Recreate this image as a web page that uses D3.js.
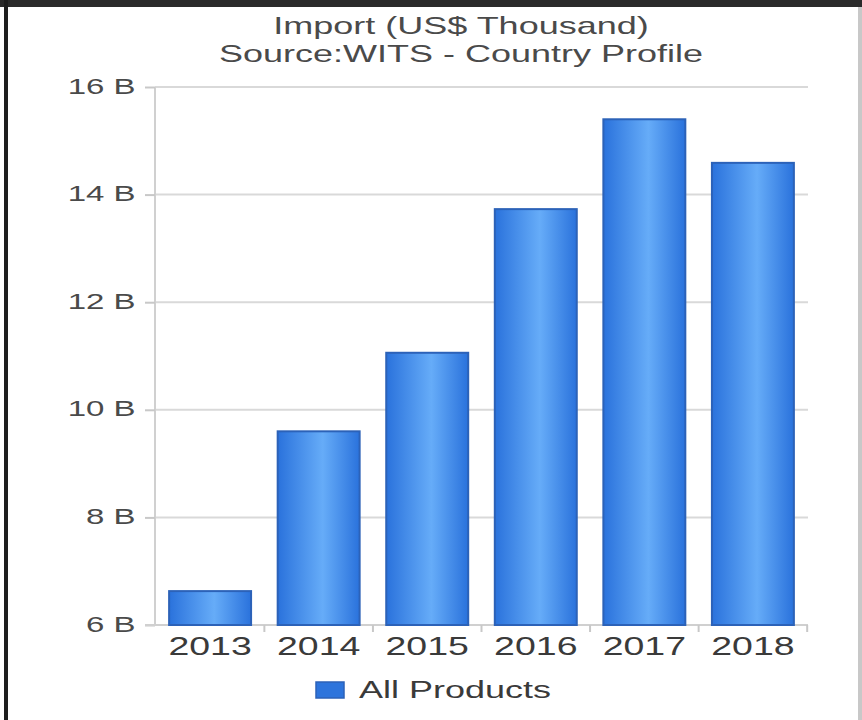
<!DOCTYPE html>
<html>
<head>
<meta charset="utf-8">
<script src="https://cdn.jsdelivr.net/npm/d3@7"></script>
<style>
  body { margin: 0; background: #fff; }
  svg { display: block; font-family: "Liberation Sans", Arial, sans-serif; }
</style>
</head>
<body>
<svg id="chart" width="862" height="720"></svg>
<script>
// data (values in billions)
const years = ["2013", "2014", "2015", "2016", "2017", "2018"];
const imports = [6.63, 9.6, 11.06, 13.73, 15.4, 14.59];
const yTicks = [6, 8, 10, 12, 14, 16];
const seriesName = "All Products";

const svg = d3.select("#chart");
const stretch = 1.5; // the original picture is wide-stretched, text too

// frame round the picture
svg.append("rect").attr("x", 0).attr("y", 0).attr("width", 862).attr("height", 720).attr("fill", "#fff");
svg.append("rect").attr("x", 0).attr("y", 0).attr("width", 862).attr("height", 7).attr("fill", "#2a2a2a");
svg.append("rect").attr("x", 4).attr("y", 0).attr("width", 4).attr("height", 720).attr("fill", "#1e1e1e");
svg.append("rect").attr("x", 858).attr("y", 7).attr("width", 4).attr("height", 713).attr("fill", "#c8c8c8");

const plotLeft = 155, plotRight = 808, plotTop = 87, plotBottom = 625;

const x = d3.scaleBand().domain(years).range([plotLeft, plotRight]).paddingInner(0.245).paddingOuter(0.13);
const y = d3.scaleLinear().domain([6, 16]).range([plotBottom, plotTop]);

// gradient for the bars
const defs = svg.append("defs");
const grad = defs.append("linearGradient").attr("id", "barGrad").attr("x1", "0").attr("x2", "1").attr("y1", "0").attr("y2", "0");
grad.append("stop").attr("offset", "0%").attr("stop-color", "#2a72dc");
grad.append("stop").attr("offset", "55%").attr("stop-color", "#66acf8");
grad.append("stop").attr("offset", "100%").attr("stop-color", "#2a72dc");

// titles
[["Import (US$ Thousand)", 34], ["Source:WITS - Country Profile", 62]].forEach(([t, ty]) => {
  svg.append("text")
    .attr("transform", `translate(461,${ty}) scale(${stretch},1)`)
    .attr("text-anchor", "middle")
    .style("font-size", "24px").attr("fill", "#4a4a4a").text(t);
});

// grid lines
svg.append("g").selectAll("line").data(yTicks.filter(d => d !== 6)).join("line")
  .attr("x1", plotLeft).attr("x2", plotRight)
  .attr("y1", d => y(d)).attr("y2", d => y(d))
  .attr("stroke", "#d9d9d9").attr("stroke-width", 2);

// y axis
const yAxis = svg.append("g").attr("transform", `translate(${plotLeft},0)`)
  .call(d3.axisLeft(y).tickValues(yTicks).tickSize(10).tickPadding(8).tickFormat(d => d + " B"));
yAxis.select(".domain").attr("stroke", "#d0d0d0").attr("stroke-width", 2).attr("d", `M0,${plotTop}V${plotBottom}`);
yAxis.selectAll(".tick line").attr("stroke", "#c8c8c8").attr("stroke-width", 2);
yAxis.selectAll(".tick text").attr("fill", "#4a4a4a").style("font-size", "22px")
  .style("font-family", "'Liberation Sans', Arial, sans-serif")
  .attr("x", -13).attr("dy", "0.28em")
  .attr("transform", `scale(${stretch},1)`);

// x axis
const xAxis = svg.append("g").attr("transform", `translate(0,${plotBottom})`)
  .call(d3.axisBottom(x).tickSize(0).tickPadding(12));
xAxis.select(".domain").attr("stroke", "#d0d0d0").attr("stroke-width", 2).attr("d", `M${plotLeft - 10},0H${plotRight}`);
xAxis.selectAll(".tick text").attr("fill", "#3a3a3a").style("font-size", "25px")
  .style("font-family", "'Liberation Sans', Arial, sans-serif").attr("dy", "0.72em")
  .attr("transform", `scale(${stretch},1)`);
// small ticks between categories
const step = x.step();
xAxis.append("g").selectAll("line").data(years).join("line")
  .attr("x1", d => x(d) + x.bandwidth() + (step - x.bandwidth()) / 2)
  .attr("x2", d => x(d) + x.bandwidth() + (step - x.bandwidth()) / 2)
  .attr("y1", 0).attr("y2", 7).attr("stroke", "#c8c8c8").attr("stroke-width", 2);

// bars
svg.append("g").selectAll("rect").data(imports).join("rect")
  .attr("x", (d, i) => x(years[i]))
  .attr("y", d => y(d))
  .attr("width", x.bandwidth())
  .attr("height", d => y(6) - y(d))
  .attr("fill", "url(#barGrad)")
  .attr("stroke", "#2c62b8").attr("stroke-width", 2);

// legend
const legend = svg.append("g").attr("transform", "translate(316,682)");
legend.append("rect").attr("width", 28).attr("height", 16)
  .attr("fill", "#2d74dc").attr("stroke", "#2c62b8").attr("stroke-width", 1.5);
legend.append("text").attr("transform", `translate(43,16) scale(${stretch},1)`)
  .style("font-size", "24px").attr("fill", "#3a3a3a").text(seriesName);
</script>
</body>
</html>
